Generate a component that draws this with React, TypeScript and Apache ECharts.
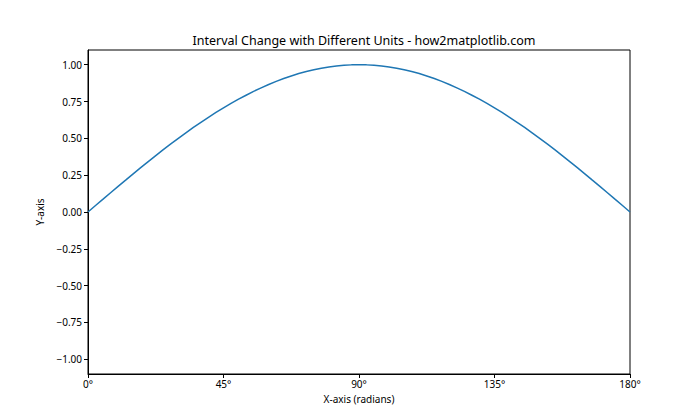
import React, { useEffect, useRef } from "react";
import * as echarts from "echarts";

const xDegrees = [
  0, 2.5, 5, 7.5, 10, 12.5, 15, 17.5, 20, 22.5, 25, 27.5, 30, 32.5, 35, 37.5, 40, 42.5, 45,
  47.5, 50, 52.5, 55, 57.5, 60, 62.5, 65, 67.5, 70, 72.5, 75, 77.5, 80, 82.5, 85, 87.5, 90,
  92.5, 95, 97.5, 100, 102.5, 105, 107.5, 110, 112.5, 115, 117.5, 120, 122.5, 125, 127.5, 130,
  132.5, 135, 137.5, 140, 142.5, 145, 147.5, 150, 152.5, 155, 157.5, 160, 162.5, 165, 167.5,
  170, 172.5, 175, 177.5, 180,
];
const yValues = [
  0, 0.044, 0.087, 0.131, 0.174, 0.216, 0.259, 0.301, 0.342, 0.383, 0.423, 0.462, 0.5, 0.537,
  0.574, 0.609, 0.643, 0.676, 0.707, 0.737, 0.766, 0.793, 0.819, 0.843, 0.866, 0.887, 0.906,
  0.924, 0.94, 0.954, 0.966, 0.976, 0.985, 0.991, 0.996, 0.999, 1.0, 0.999, 0.996, 0.991,
  0.985, 0.976, 0.966, 0.954, 0.94, 0.924, 0.906, 0.887, 0.866, 0.843, 0.819, 0.793, 0.766,
  0.737, 0.707, 0.676, 0.643, 0.609, 0.574, 0.537, 0.5, 0.462, 0.423, 0.383, 0.342, 0.301,
  0.259, 0.216, 0.174, 0.131, 0.087, 0.044, 0,
];
const yTicks = [-1, -0.75, -0.5, -0.25, 0, 0.25, 0.5, 0.75, 1];
const titleText = "Interval Change with Different Units - how2matplotlib.com";
const xName = "X-axis (radians)";
const yName = "Y-axis";

const FONT = "Noto Sans";

export default function App() {
  const ref = useRef<HTMLDivElement>(null);
  useEffect(() => {
    if (!ref.current) return;
    const chart = echarts.init(ref.current, null, { renderer: "svg" });
    chart.setOption({
      animation: false,
      backgroundColor: "#ffffff",
      title: {
        text: titleText,
        left: 359,
        textAlign: "center",
        top: 29,
        textStyle: { fontFamily: FONT, fontSize: 12.5, fontWeight: "normal", color: "#000" },
      },
      grid: {
        left: 88,
        right: 70,
        top: 50,
        bottom: 46,
        show: true,
        borderColor: "#000",
        borderWidth: 1,
        backgroundColor: "transparent",
      },
      xAxis: {
        type: "value",
        min: 0,
        max: 180,
        interval: 45,
        name: xName,
        nameLocation: "middle",
        nameGap: 20,
        nameTextStyle: { fontFamily: FONT, fontSize: 10, color: "#000" },
        axisLine: { show: true, onZero: false, lineStyle: { color: "#000", width: 1 } },
        axisTick: { show: true, inside: false, length: 4, lineStyle: { color: "#000" } },
        axisLabel: {
          fontFamily: FONT,
          fontSize: 10,
          color: "#000",
          margin: 5,
          formatter: (v: number) => `${v}°`,
        },
        splitLine: { show: false },
      },
      yAxis: {
        type: "value",
        min: -1.1,
        max: 1.1,
        name: yName,
        nameLocation: "middle",
        nameGap: 43,
        nameTextStyle: { fontFamily: FONT, fontSize: 10, color: "#000" },
        axisLine: { show: true, onZero: false, lineStyle: { color: "#000", width: 1 } },
        axisTick: {
          show: true,
          inside: false,
          length: 4,
          lineStyle: { color: "#000" },
          customValues: yTicks,
        },
        axisLabel: {
          fontFamily: FONT,
          fontSize: 10,
          color: "#000",
          margin: 6,
          customValues: yTicks,
          formatter: (v: number) => v.toFixed(2).replace("-", "−"),
        },
        splitLine: { show: false },
      },
      series: [
        {
          type: "line",
          data: xDegrees.map((x, i) => [x, yValues[i]]),
          showSymbol: false,
          symbol: "none",
          smooth: false,
          lineStyle: { color: "#1f77b4", width: 1.5 },
        },
      ],
    });
    return () => chart.dispose();
  }, []);
  return <div ref={ref} style={{ position: "fixed", left: 0, top: 0, width: 700, height: 420 }} />;
}
